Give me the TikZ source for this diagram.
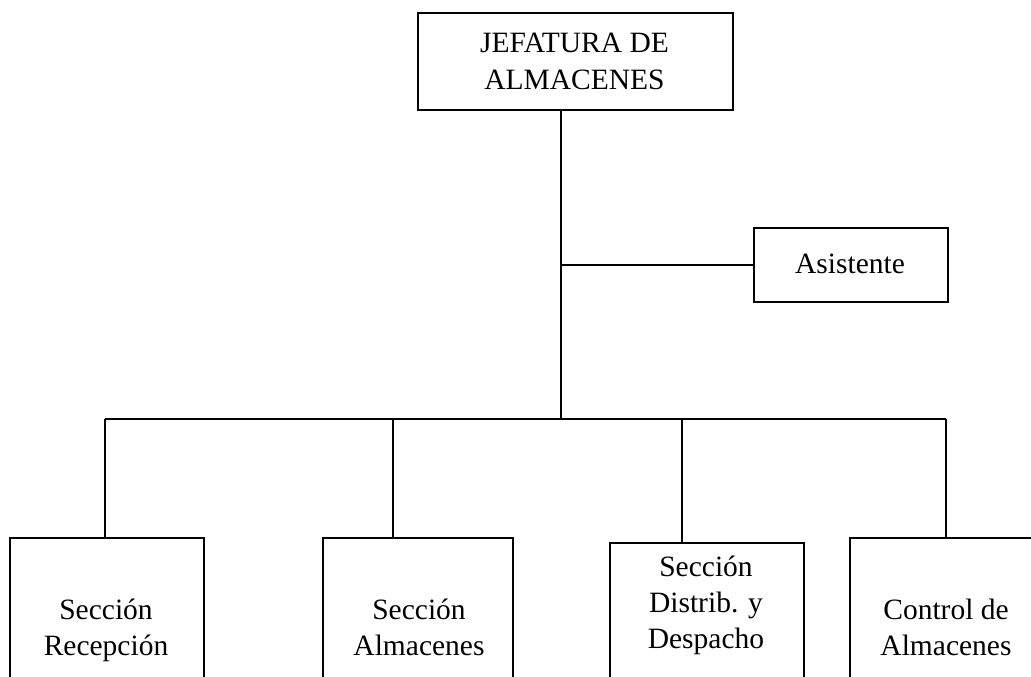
\documentclass[tikz,border=0pt]{standalone}
\usepackage{fontspec}
\setmainfont{Liberation Serif}
\begin{document}
\begin{tikzpicture}[x=1pt,y=-1pt,
  line width=1.8pt,
  unit/.style={draw, line width=1.8pt, inner sep=0pt, anchor=north west},
  label text/.style={align=center, anchor=base, inner sep=0pt,
    font=\fontsize{29.5}{36}\selectfont},
  link/.style={line width=1.8pt}]
\useasboundingbox (0,0) rectangle (1031,677);
\clip (0,0) rectangle (1031,677);

% head office and assistant
\node[unit, minimum width=315pt, minimum height=97pt] (jefe) at (417,12) {};
\node[label text] (jefeT) at (574.5,89) {JEFATURA DE\\ALMACENES};
\node[unit, minimum width=194pt, minimum height=74pt] (asis) at (753,227) {};
\node[label text] (asisT) at (850,273) {Asistente};

% sections (their lower edges run past the page)
\node[unit, minimum width=194pt, minimum height=200pt] (s1) at (9,537) {};
\node[unit, minimum width=190pt, minimum height=200pt] (s2) at (322,537) {};
\node[unit, minimum width=194pt, minimum height=200pt] (s3) at (609,542) {};
\node[unit, minimum width=194pt, minimum height=200pt] (s4) at (849,537) {};
\node[label text] (s1T) at (106,655) {Sección\\Recepción};
\node[label text] (s2T) at (419,655) {Sección\\Almacenes};
\node[label text] (s3T) at (706,648) {Sección\\Distrib. y\\Despacho};
\node[label text] (s4T) at (946,655) {Control de\\Almacenes};

% trunk and bus
\coordinate (trunk) at (561,419);
\coordinate (busL) at (105,419);
\coordinate (busR) at (946,419);
\draw[link] (jefe.south -| trunk) -- (trunk);
\draw[link] (asis.west -| trunk) -- (asis.west);
\draw[link] (busL) -- (busR);
\draw[link] (busL) -- (busL |- s1.north);
\draw[link] (393,419) -- (393,537) coordinate (d2);
\draw[link] (682,419) -- (682,542) coordinate (d3);
\draw[link] (busR) -- (busR |- s4.north);
\end{tikzpicture}
\end{document}
